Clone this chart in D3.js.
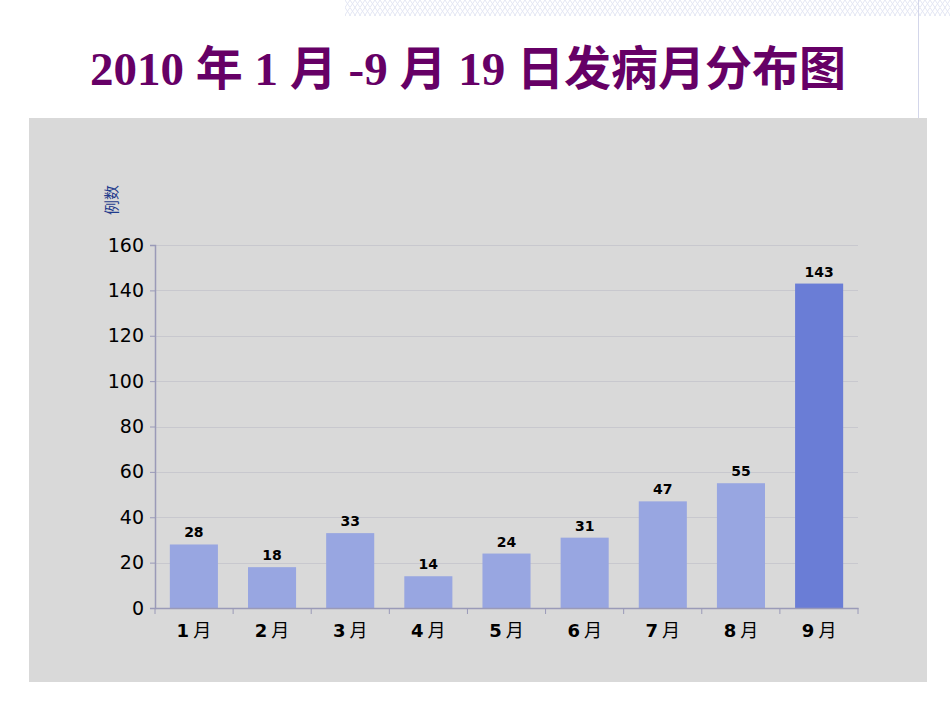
<!DOCTYPE html>
<html>
<head>
<meta charset="utf-8">
<script src="https://cdn.jsdelivr.net/npm/d3@7"></script>
<style>
  body { margin: 0; background: #fff; }
  svg { display: block; }
</style>
</head>
<body>
<svg id="chart"></svg>
<script>
// chart data
const months = ['1', '2', '3', '4', '5', '6', '7', '8', '9'];
const cases = [28, 18, 33, 14, 24, 31, 47, 55, 143];
const yTicks = [0, 20, 40, 60, 80, 100, 120, 140, 160];

const width = 950;
const height = 713;

const svg = d3.select('#chart')
  .attr('width', width)
  .attr('height', height);

// lattice strip at the top
const defs = svg.append('defs');
const pat = defs.append('pattern')
  .attr('id', 'lattice')
  .attr('patternUnits', 'userSpaceOnUse')
  .attr('width', 10)
  .attr('height', 15);
pat.append('path')
  .attr('d', 'M0,0 L10,15 M10,0 L0,15 M0,7.5 L5,0 M5,15 L10,7.5 M0,7.5 L5,15 M5,0 L10,7.5')
  .attr('stroke', '#e3e6f3')
  .attr('stroke-width', 1)
  .attr('fill', 'none');
svg.append('rect')
  .attr('x', 345).attr('y', 0)
  .attr('width', width - 345).attr('height', 16)
  .attr('fill', 'url(#lattice)');

svg.append('line')
  .attr('x1', 918.5).attr('x2', 918.5)
  .attr('y1', 0).attr('y2', 118)
  .attr('stroke', '#d3d6ea');

// title
svg.append('text')
  .attr('x', 468)
  .attr('y', 85)
  .attr('text-anchor', 'middle')
  .attr('fill', '#660066')
  .attr('font-family', '"Liberation Serif", "Noto Sans CJK SC", serif')
  .attr('font-weight', 'bold')
  .attr('font-size', 47)
  .text('2010 年 1 月 -9 月 19 日发病月分布图');

// gray panel
svg.append('rect')
  .attr('x', 29).attr('y', 118)
  .attr('width', 898).attr('height', 564)
  .attr('fill', '#d9d9d9');

const margin = { top: 245, right: 92, bottom: 105, left: 155 };
const plotW = width - margin.left - margin.right;
const plotH = height - margin.top - margin.bottom;

const g = svg.append('g')
  .attr('transform', `translate(${margin.left},${margin.top})`);

const x = d3.scaleBand()
  .domain(months)
  .range([0, plotW])
  .paddingInner(0.385)
  .paddingOuter(0.19);

const y = d3.scaleLinear()
  .domain([0, 160])
  .range([plotH, 0]);

// grid lines
g.append('g')
  .selectAll('line')
  .data(yTicks.slice(1))
  .join('line')
  .attr('x1', 0).attr('x2', plotW)
  .attr('y1', d => Math.round(y(d)) + 0.5)
  .attr('y2', d => Math.round(y(d)) + 0.5)
  .attr('stroke', '#c4c4cc')
  .attr('stroke-width', 0.8);

// bars
g.selectAll('rect.bar')
  .data(cases)
  .join('rect')
  .attr('class', 'bar')
  .attr('x', (d, i) => x(months[i]))
  .attr('y', d => y(d))
  .attr('width', x.bandwidth())
  .attr('height', d => plotH - y(d))
  .attr('fill', (d, i) => i === cases.length - 1 ? '#6a7dd6' : '#98a6e1');

// value labels
g.selectAll('text.val')
  .data(cases)
  .join('text')
  .attr('class', 'val')
  .attr('x', (d, i) => x(months[i]) + x.bandwidth() / 2)
  .attr('y', d => y(d) - 7)
  .attr('text-anchor', 'middle')
  .attr('font-family', '"DejaVu Sans", sans-serif')
  .attr('font-weight', 'bold')
  .attr('font-size', 14)
  .attr('fill', '#000')
  .text(d => d);

// y axis
const yAxis = g.append('g')
  .call(d3.axisLeft(y).tickValues(yTicks).tickSize(5).tickPadding(6));
yAxis.select('.domain').attr('stroke', '#9a9ab8').attr('stroke-width', 1.5);
yAxis.selectAll('.tick line').attr('stroke', '#9a9ab8');
yAxis.selectAll('.tick text')
  .attr('font-family', '"DejaVu Sans", sans-serif')
  .attr('font-size', 19)
  .attr('fill', '#000');

// x axis
const xAxis = g.append('g')
  .attr('transform', `translate(0,${plotH})`)
  .call(d3.axisBottom(x).tickSize(0).tickFormat(''));
xAxis.select('.domain').attr('stroke', '#9a9ab8').attr('stroke-width', 1.5);

const bounds = d3.range(months.length + 1).map(i => i * plotW / months.length);
xAxis.selectAll('line.sep')
  .data(bounds)
  .join('line')
  .attr('class', 'sep')
  .attr('x1', d => d).attr('x2', d => d)
  .attr('y1', 0).attr('y2', 6)
  .attr('stroke', '#9a9ab8');

const xl = xAxis.selectAll('text.lab')
  .data(months)
  .join('text')
  .attr('class', 'lab')
  .attr('x', d => x(d) + x.bandwidth() / 2)
  .attr('y', 29)
  .attr('text-anchor', 'middle')
  .attr('fill', '#000');
xl.append('tspan')
  .attr('font-family', '"DejaVu Sans", sans-serif')
  .attr('font-weight', 'bold')
  .attr('font-size', 18)
  .text(d => d);
xl.append('tspan')
  .attr('font-family', '"Noto Sans CJK SC", sans-serif')
  .attr('font-size', 18)
  .attr('dx', 4)
  .text('月');

// y axis title
svg.append('text')
  .attr('transform', 'translate(117,200) rotate(-90)')
  .attr('text-anchor', 'middle')
  .attr('font-family', '"Noto Sans CJK SC", sans-serif')
  .attr('font-size', 15)
  .attr('fill', '#1f3b8c')
  .text('例数');
</script>
</body>
</html>
